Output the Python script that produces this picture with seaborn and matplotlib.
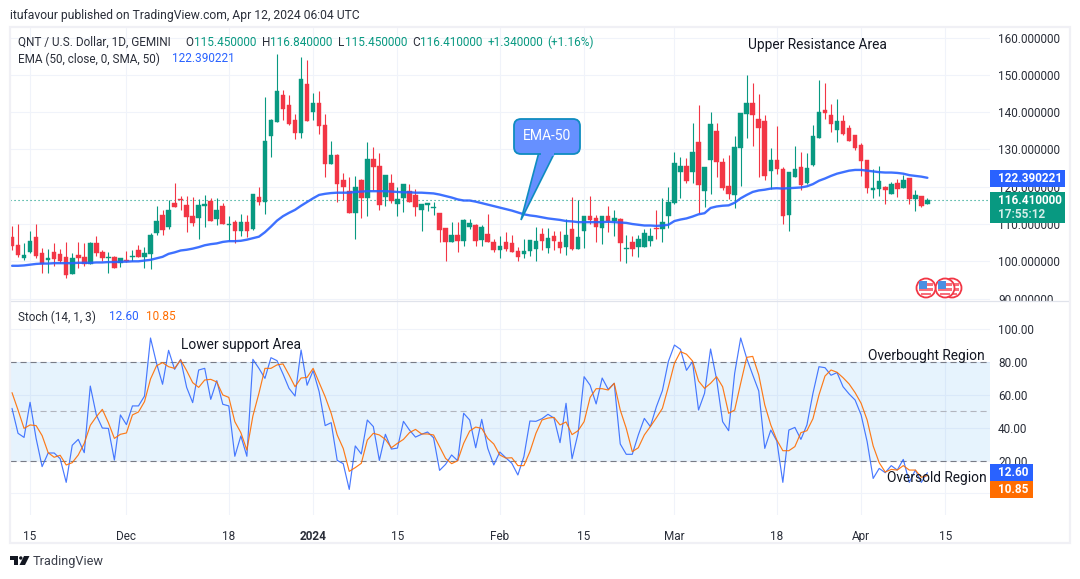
import matplotlib
matplotlib.use("Agg")
import matplotlib.pyplot as plt
import matplotlib.patches as mpatches
import pandas as pd
import seaborn as sns

# values, one per daily candle from 2023-11-12
opens = [106.4,104.4,101.0,102.5,106.5,102.2,100.4,102.5,102.0,101.2,96.6,101.7,101.2,99.4,104.9,102.5,101.0,101.2,99.6,100.4,
         101.2,103.0,101.2,102.0,107.6,112.4,109.2,115.6,116.7,115.1,112.1,111.6,114.9,116.2,111.3,114.8,109.8,110.5,108.1,110.5,
         108.7,117.2,115.9,133.6,137.3,144.6,141.9,137.9,134.4,147.5,140.0,142.4,136.5,126.1,128.5,121.8,118.8,112.9,121.8,117.1,
         127.4,125.5,117.2,120.9,115.4,117.0,118.8,117.8,113.8,115.1,114.3,112.9,108.9,105.2,107.1,105.4,109.2,109.7,105.7,107.3,
         105.2,103.0,105.2,104.9,102.8,102.0,102.8,103.3,107.3,103.6,106.8,105.2,103.8,108.7,103.3,108.1,112.1,111.6,108.9,112.1,
         110.7,111.3,103.4,105.2,103.8,103.8,105.4,108.9,108.7,112.1,115.6,123.9,125.5,123.9,132.0,118.8,127.1,134.9,126.6,120.2,
         117.8,130.4,139.5,142.4,138.1,137.6,124.2,127.1,124.7,112.4,122.6,125.3,121.0,125.8,133.0,140.5,139.2,135.2,137.6,135.7,
         133.8,131.2,127.1,119.1,119.4,119.9,118.0,121.0,119.6,122.3,116.7,117.5,115.45]
highs = [109.5,110.0,104.8,108.1,110.0,103.5,103.2,104.8,103.3,105.2,102.1,105.1,104.8,105.2,106.8,103.0,102.5,101.3,101.0,102.8,
         103.0,104.3,103.9,107.5,114.8,113.8,116.4,121.0,117.5,117.5,117.3,116.7,117.8,116.9,117.1,115.5,112.1,111.1,112.7,112.4,
         118.0,120.0,144.0,138.1,155.5,145.9,144.6,139.5,154.7,153.9,145.1,145.6,139.5,132.2,128.9,123.6,122.7,122.9,122.0,132.0,
         130.6,129.0,123.1,123.4,119.9,120.7,120.7,119.4,115.4,115.6,115.9,112.9,108.9,110.5,110.5,111.3,111.3,110.0,109.7,112.7,
         106.0,106.8,107.9,107.1,103.9,106.0,105.7,109.2,108.9,108.9,108.1,108.1,111.3,117.2,116.4,112.1,117.5,112.4,112.1,114.8,
         113.8,111.6,107.1,106.8,107.1,108.7,108.9,113.8,117.0,119.9,129.3,127.9,127.7,137.1,141.9,125.3,140.0,137.1,127.7,128.5,
         133.6,139.7,149.9,147.8,144.8,139.2,130.4,136.3,125.3,123.9,130.9,129.3,129.0,136.5,148.6,147.8,142.1,143.5,139.2,136.5,
         133.8,131.7,127.1,124.7,125.5,120.2,121.3,122.1,123.1,122.3,119.1,117.5,116.84]
lows = [103.0,101.1,100.4,102.3,101.0,97.0,97.0,98.8,99.5,95.5,96.6,98.1,98.8,99.3,101.3,100.2,97.0,98.2,98.4,99.9,
        100.2,101.1,98.2,97.9,107.1,107.1,108.7,114.6,113.8,107.9,109.5,106.0,109.3,110.8,109.7,109.9,105.4,105.0,106.8,106.4,
        108.4,115.1,112.7,127.9,137.3,137.9,136.5,132.8,133.0,137.6,137.9,134.1,122.6,126.1,115.9,116.4,112.9,106.0,111.6,112.1,
        119.1,113.8,114.8,115.6,112.1,113.2,115.9,112.1,108.1,113.5,112.4,105.2,100.2,105.2,102.5,104.1,108.7,104.1,104.1,105.2,
        102.5,100.9,102.7,102.5,100.1,100.9,101.3,100.1,103.0,102.2,103.0,102.2,101.7,103.0,103.3,103.6,110.0,105.2,104.6,107.9,
        106.8,100.1,99.6,101.4,101.2,103.8,104.1,106.0,105.2,108.9,115.3,117.0,120.9,120.9,112.9,114.6,118.0,122.6,119.1,116.7,
        114.3,120.2,133.0,130.9,122.6,121.8,119.4,123.4,110.0,108.1,122.6,119.1,120.7,125.5,133.0,138.1,134.6,132.0,133.8,132.2,
        129.8,122.9,118.3,117.0,117.5,115.4,118.0,117.2,119.6,115.4,113.5,114.6,115.45]
closes = [104.1,101.8,101.7,105.4,101.4,99.3,100.9,100.6,100.0,96.4,100.9,100.9,99.3,104.9,102.2,100.9,101.2,98.2,100.8,100.0,
          101.3,101.2,102.2,107.1,110.8,108.4,113.8,114.6,116.4,111.9,110.3,115.1,115.4,110.8,113.8,110.0,110.0,108.1,110.5,108.1,
          118.0,115.9,132.2,137.9,145.6,140.8,136.8,134.4,148.8,137.6,142.4,136.3,126.1,128.5,120.7,119.9,112.9,119.9,117.1,127.4,
          125.3,115.1,123.1,116.2,116.7,120.7,115.9,114.6,115.4,115.6,114.6,108.4,105.2,107.1,105.4,111.1,110.3,105.4,109.2,105.2,
          103.0,104.1,103.3,102.5,101.2,102.8,105.7,105.4,105.4,106.3,105.4,103.6,107.1,103.3,106.5,112.1,111.1,109.2,112.1,110.8,
          111.6,104.9,103.6,103.3,106.0,107.6,106.8,108.7,110.5,115.9,126.3,125.5,121.5,129.3,120.4,125.3,136.8,126.6,119.6,118.0,
          130.6,139.7,142.4,139.2,135.7,122.9,127.1,124.7,112.1,123.9,124.7,120.4,125.0,133.6,140.0,139.7,136.8,137.6,134.1,132.2,
          130.4,126.9,119.6,119.6,121.5,119.1,120.7,119.4,121.8,116.7,117.8,114.8,116.41]
ema50 = [98.8,98.8,98.9,99.1,99.3,99.4,99.4,99.5,99.5,99.5,99.5,99.6,99.6,99.6,99.7,99.7,99.8,99.8,99.9,99.9,
         100.0,100.0,100.2,100.4,100.8,101.2,102.0,102.4,102.9,103.1,103.4,103.8,104.3,104.6,104.8,105.2,105.4,105.4,105.5,105.8,
         106.2,106.6,107.8,109.3,110.9,112.1,113.0,113.8,114.9,115.9,116.9,117.8,118.1,118.3,118.4,118.4,118.4,118.6,118.7,118.8,
         118.8,118.8,118.8,118.7,118.6,118.5,118.5,118.4,118.4,118.3,118.2,117.9,117.5,117.1,116.6,116.3,116.3,116.0,115.6,115.2,
         114.8,114.4,114.0,113.6,113.1,112.6,112.3,112.1,111.8,111.5,111.3,111.1,110.8,110.7,110.5,110.5,110.5,110.5,110.5,110.6,
         110.5,110.4,110.3,110.0,109.8,109.6,109.6,109.5,109.6,109.8,110.8,111.2,111.5,112.0,112.6,112.9,114.3,114.7,114.9,115.0,
         115.7,116.9,117.8,118.6,119.0,119.2,119.5,119.6,119.5,119.6,119.7,119.8,120.1,120.7,121.6,122.2,122.9,123.5,123.9,124.3,
         124.5,124.5,124.3,124.1,123.9,123.8,123.8,123.7,123.5,123.1,122.9,122.7,122.39]
stoch_k = [51.8,36.6,34.1,55.5,33.5,16.3,24.6,24.6,21.1,6.7,29.3,32.9,24.8,65.4,47.8,39.8,39.6,20.3,47.8,41.9,
           53.3,53.3,59.3,94.7,79.3,66.5,87.2,75.6,81.7,64.6,55.3,75.2,76.2,57.3,68.7,54.3,53.3,22.6,35.0,22.6,
           81.7,76.2,70.1,82.7,80.9,72.8,64.0,59.3,87.4,65.9,74.8,62.0,41.3,43.1,20.1,18.1,2.4,28.9,24.0,44.7,
           40.7,20.1,36.0,27.0,27.6,43.9,38.6,34.3,36.0,37.4,33.9,14.0,17.7,23.4,19.9,48.8,44.7,27.8,45.1,27.4,
           17.3,25.2,21.7,18.3,11.2,22.4,44.1,43.9,45.5,48.2,45.9,30.9,54.9,21.1,36.6,71.1,65.9,54.5,70.3,63.4,
           67.1,30.1,23.8,23.8,35.6,45.7,40.7,52.8,62.6,80.5,90.4,87.8,75.0,80.3,50.8,61.0,88.0,69.5,43.7,38.2,
           73.2,94.7,82.3,72.2,62.4,27.4,38.6,31.9,6.7,38.6,40.2,32.9,41.7,61.0,77.2,76.6,72.0,73.6,65.0,60.6,
           56.9,47.8,31.5,9.1,15.2,12.6,16.9,14.2,20.7,6.7,14.2,6.7,12.6]
stoch_d = [61.4,50.8,39.6,41.7,41.3,35.2,24.8,22.0,23.2,17.3,18.7,23.4,30.5,41.5,46.7,51.2,43.1,33.5,36.0,36.8,
           47.8,49.6,55.9,69.7,77.8,79.7,77.2,76.2,81.3,74.8,67.5,64.6,69.1,69.5,67.9,60.0,58.5,43.7,37.0,26.4,
           47.2,61.0,76.2,76.2,78.3,78.9,72.2,65.0,70.3,70.7,76.2,67.5,58.9,48.8,35.6,27.4,13.4,15.7,18.3,32.5,
           36.6,35.6,32.9,27.8,30.5,32.9,37.0,39.0,36.2,36.2,35.6,28.5,21.3,18.1,19.9,30.5,38.0,40.4,39.6,33.5,
           30.1,23.4,21.5,21.7,16.9,16.9,25.4,36.6,44.7,45.9,46.3,41.7,43.5,35.8,38.2,43.7,58.5,63.8,63.8,63.0,
           67.1,50.8,39.6,25.4,27.8,35.6,40.7,46.1,51.8,65.0,79.3,86.4,84.8,80.7,68.5,64.0,67.1,71.1,65.0,48.8,
           50.8,67.1,82.9,83.5,72.2,53.9,41.7,32.5,26.0,26.0,28.5,37.0,38.2,45.5,60.0,71.5,75.2,73.8,70.5,66.7,
           61.4,54.9,44.7,28.9,18.7,13.0,14.6,14.2,16.9,14.2,14.2,9.8,10.85]

price_ticks = [90, 100, 110, 120, 130, 140, 150, 160]
stoch_ticks = [0, 20, 40, 60, 80, 100]
date_ticks = ["2023-11-15", "2023-12-01", "2023-12-18", "2024-01-01", "2024-01-15", "2024-02-01",
              "2024-02-15", "2024-03-01", "2024-03-18", "2024-04-01", "2024-04-15"]
date_labels = ["15", "Dec", "18", "2024", "15", "Feb", "15", "Mar", "18", "Apr", "15"]

GREEN = "#089981"
RED = "#f23645"
BLUE = "#2962ff"
ORANGE = "#ff6d00"
GRID = "#f0f3fa"
TEXT = "#2a2e39"
W, H = 1080, 579

sns.set_theme(style="white")
plt.rcParams["font.family"] = ["Roboto", "DejaVu Sans"]

df = pd.DataFrame({
    "date": pd.date_range("2023-11-12", periods=len(opens), freq="D"),
    "open": opens, "high": highs, "low": lows, "close": closes,
    "ema": ema50, "k": stoch_k, "d": stoch_d,
})


def pane(x0, y0, x1, y1):
    return fig.add_axes([x0 / W, 1 - y1 / H, (x1 - x0) / W, (y1 - y0) / H])


fig = plt.figure(figsize=(W / 100, H / 100), dpi=100, facecolor="white")
ax_price = pane(10, 28, 990, 301)
ax_stoch = pane(10, 301, 990, 515)

xlim = (pd.Timestamp("2023-11-12") - pd.Timedelta(hours=8), pd.Timestamp("2023-11-12") + pd.Timedelta(days=162.4))
for ax in (ax_price, ax_stoch):
    ax.set_facecolor("white")
    for side in ax.spines:
        ax.spines[side].set_visible(False)
    ax.set_axisbelow(True)
    ax.grid(True, color=GRID, lw=0.75)

# candles
colors = [GREEN if c >= o else RED for o, c in zip(df["open"], df["close"])]
ax_price.axhline(closes[-1], color=GREEN, lw=0.8, ls=(0, (1, 2.6)), zorder=1.5)
ax_price.vlines(df["date"], df["low"], df["high"], colors=colors, lw=0.8, zorder=2)
ax_price.bar(df["date"], df["close"] - df["open"], bottom=df["open"], width=0.76, color=colors,
             edgecolor=colors, linewidth=0.3, zorder=3)
sns.lineplot(data=df, x="date", y="ema", ax=ax_price, color=BLUE, lw=1.7, alpha=0.9, zorder=4, legend=False)
ax_price.set_ylim(89.36, 162.55)
ax_price.set_yticks(price_ticks)
ax_price.set_yticklabels([f"{t:.6f}" for t in price_ticks])

# stochastic pane
ax_stoch.axhspan(20, 80, color="#2196f3", alpha=0.11, lw=0, zorder=1)
for level, shade in [(80, "#787b86"), (50, "#b2b5be"), (20, "#787b86")]:
    ax_stoch.axhline(level, color=shade, lw=0.8, ls=(0, (5.5, 3.5)), zorder=1.5)
sns.lineplot(data=df, x="date", y="k", ax=ax_stoch, color=BLUE, lw=0.85, alpha=0.85, zorder=3, legend=False)
sns.lineplot(data=df, x="date", y="d", ax=ax_stoch, color=ORANGE, lw=0.85, alpha=0.9, zorder=4, legend=False)
ax_stoch.set_ylim(-13.2, 117.26)
ax_stoch.set_yticks(stoch_ticks)
ax_stoch.set_yticklabels(["", "20.00", "40.00", "60.00", "80.00", "100.00"])

for ax in (ax_price, ax_stoch):
    ax.set_xlim(xlim)
    ax.set_xlabel("")
    ax.set_ylabel("")
    ax.yaxis.tick_right()
    ax.tick_params(axis="y", length=0, pad=5.8, labelsize=8.5, labelcolor=TEXT)
    ax.set_xticks(pd.to_datetime(date_ticks))

ax_price.tick_params(axis="x", length=0, labelbottom=False)
ax_stoch.set_xticklabels(date_labels)
ax_stoch.tick_params(axis="x", length=0, pad=11, labelsize=8.5, labelcolor=TEXT)
ax_stoch.get_xticklabels()[3].set_fontweight("bold")

# overlay in pixel coordinates for the frame, labels and drawings
top = fig.add_axes([0, 0, 1, 1], zorder=10)
top.set_xlim(0, W)
top.set_ylim(H, 0)
top.axis("off")
top.patch.set_alpha(0)

top.add_patch(mpatches.Rectangle((992, 301.5), 74, 15, fc="white", ec="none", zorder=1))
top.plot([10, 1069], [301, 301], color="#e0e3eb", lw=0.9, zorder=2)
top.add_patch(mpatches.Rectangle((10, 26.5), 1060, 516, fc="none", ec="#f0f0f5", lw=1.6, zorder=2))


def txt(x, y, s, color=TEXT, size=8.5, ha="left", **kw):
    top.text(x, y, s, color=color, fontsize=size, ha=ha, va="center", zorder=6, **kw)


txt(10, 15, "itufavour published on TradingView.com, Apr 12, 2024 06:04 UTC", size=8.7)
txt(18, 42, "QNT / U.S. Dollar, 1D, GEMINI")
for x, s in [(185, "O"), (262, "H"), (338, "L"), (412, "C")]:
    txt(x, 42, s)
for x, s in [(194, "115.450000"), (270, "116.840000"), (345, "115.450000"), (420, "116.410000"),
             (488, "+1.340000"), (547, "(+1.16%)")]:
    txt(x, 42, s, color=GREEN)
txt(18, 59, "EMA (50, close, 0, SMA, 50)")
txt(172, 59, "122.390221", color=BLUE)
txt(18, 317, "Stoch (14, 1, 3)")
txt(109, 317, "12.60", color=BLUE)
txt(146, 317, "10.85", color=ORANGE)

txt(748, 45.5, "Upper Resistance Area", color="#131722", size=9.9)
txt(181, 345, "Lower support Area", color="#131722", size=9.9)
txt(868, 356, "Overbought Region", color="#131722", size=9.9)
txt(887, 478, "Oversold Region", color="#131722", size=9.9)

# last value tags
top.add_patch(mpatches.Rectangle((990, 170), 75, 17, fc=BLUE, ec="none", zorder=5))
txt(998, 178.5, "122.390221", color="white", weight="bold")
top.add_patch(mpatches.Rectangle((990, 192), 75, 31, fc=GREEN, ec="none", zorder=5))
txt(998, 200, "116.410000", color="white", weight="bold")
txt(998, 214.5, "17:55:12", color="#d5eee9", weight="bold")
top.add_patch(mpatches.Rectangle((990, 464), 43, 17, fc=BLUE, ec="none", zorder=5))
txt(998, 472.5, "12.60", color="white", weight="bold")
top.add_patch(mpatches.Rectangle((990, 481), 43, 17, fc=ORANGE, ec="none", zorder=5))
txt(998, 489.5, "10.85", color="white", weight="bold")

# EMA-50 callout
top.add_patch(mpatches.Polygon([(539, 152), (521, 220), (555, 152)], closed=True, fc="#6690ff", ec="#0f8cc0", lw=1.2, zorder=4))
top.add_patch(mpatches.FancyBboxPatch((519, 124), 56, 25, boxstyle="round,pad=5,rounding_size=7", fc="#6690ff", ec="#0f8cc0", lw=1.3, zorder=4))
top.add_patch(mpatches.Rectangle((540.5, 150), 13, 6, fc="#6690ff", ec="none", zorder=4.5))
txt(547, 136, "EMA-50", color="white", size=10, ha="center")


# event flags
def flag(cx, cy, z):
    top.add_patch(mpatches.Circle((cx, cy), 9.5, fc="white", ec=RED, lw=1.3, zorder=z))
    top.add_patch(mpatches.Rectangle((cx - 7, cy + 0), 14, 3, fc="#f7707c", ec="none", zorder=z))
    top.add_patch(mpatches.Rectangle((cx - 5, cy + 5), 10, 2, fc="#f7707c", ec="none", zorder=z))
    top.add_patch(mpatches.Rectangle((cx, cy - 5), 7, 2.5, fc="#f7707c", ec="none", zorder=z))
    top.add_patch(mpatches.Rectangle((cx - 7, cy - 7), 8, 8, fc="#4a90e2", ec="none", zorder=z + 0.1))


flag(952, 288, 3)
flag(945, 288, 3.2)
flag(926, 288, 3.4)

# TradingView logo
top.add_patch(mpatches.Polygon([(10, 556), (18, 556), (18, 565), (14, 565), (14, 559.5), (10, 559.5)], closed=True, fc="#131722", ec="none"))
top.add_patch(mpatches.Circle((20.8, 558), 1.7, fc="#131722", ec="none"))
top.add_patch(mpatches.Polygon([(24, 556), (29.5, 556), (25, 565), (19.5, 565)], closed=True, fc="#131722", ec="none"))
txt(33, 561, "TradingView", color="#3b3f4a", size=9.2)

fig.savefig("out.png", dpi=100, facecolor="white")
